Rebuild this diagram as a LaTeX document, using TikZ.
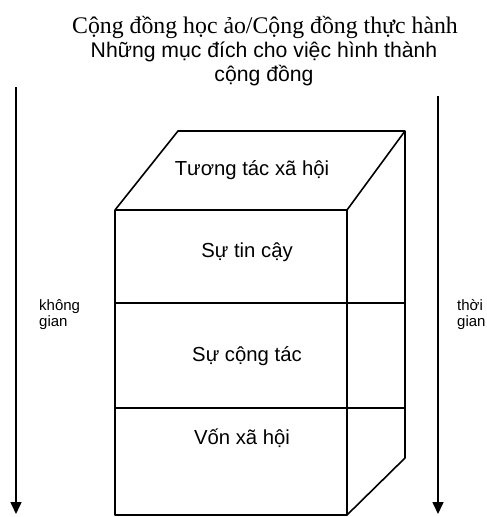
\documentclass[tikz,border=0pt]{standalone}
\usepackage{fontspec}
\setmainfont{Liberation Serif}
\setsansfont{Liberation Sans}
\usetikzlibrary{arrows.meta}
\begin{document}
\begin{tikzpicture}[x=1pt,y=-1pt,
  edge/.style={line width=1.6pt,line join=round},
  flow/.style={line width=1.6pt,-{Triangle[length=12pt,width=11pt]}},
  boxtext/.style={font=\sffamily\fontsize{20.3}{24}\selectfont,inner sep=0pt},
  sidetext/.style={font=\sffamily\fontsize{15}{16}\selectfont,align=left,inner sep=0pt}]
\useasboundingbox (0,0) rectangle (487,517);
% title
\node[font=\rmfamily\fontsize{23.8}{26}\selectfont,inner sep=0pt] (t1) at (265,27) {Cộng đồng học ảo/Cộng đồng thực hành};
\node[font=\sffamily\fontsize{21.2}{23.5}\selectfont,align=center,inner sep=0pt] (t2) at (264,64) {Những mục đích cho việc hình thành\\cộng đồng};
% box corners
\coordinate (ftl) at (115,210);
\coordinate (ftr) at (347,210);
\coordinate (fbl) at (115,515);
\coordinate (fbr) at (347,515);
\coordinate (btl) at (178,131);
\coordinate (btr) at (405,131);
\coordinate (bbr) at (405,458);
\draw[edge] (ftl) -- (btl) -- (btr) -- (ftr) -- cycle;
\draw[edge] (ftl) -- (fbl) -- (fbr) -- (ftr);
\draw[edge] (btr) -- (bbr) -- (fbr);
\coordinate (d1l) at (115,303);
\coordinate (d1r) at (405,303);
\coordinate (d2l) at (115,408);
\coordinate (d2r) at (405,408);
\draw[edge] (d1l) -- (d1r);
\draw[edge] (d2l) -- (d2r);
% labels
\node[boxtext] (l1) at (252,170) {Tương tác xã hội};
\node[boxtext] (l2) at (247,252) {Sự tin cậy};
\node[boxtext] (l3) at (247,356) {Sự cộng tác};
\node[boxtext] (l4) at (242,438) {Vốn xã hội};
% arrows
\coordinate (a1s) at (16,87);
\coordinate (a1e) at (16,514);
\coordinate (a2s) at (438,96);
\coordinate (a2e) at (438,514);
\draw[flow] (a1s) -- (a1e);
\draw[flow] (a2s) -- (a2e);
\node[sidetext,anchor=west] (k) at (39,315) {không\\gian};
\node[sidetext,anchor=west] (tg) at (457,315) {thời\\gian};
\end{tikzpicture}
\end{document}
